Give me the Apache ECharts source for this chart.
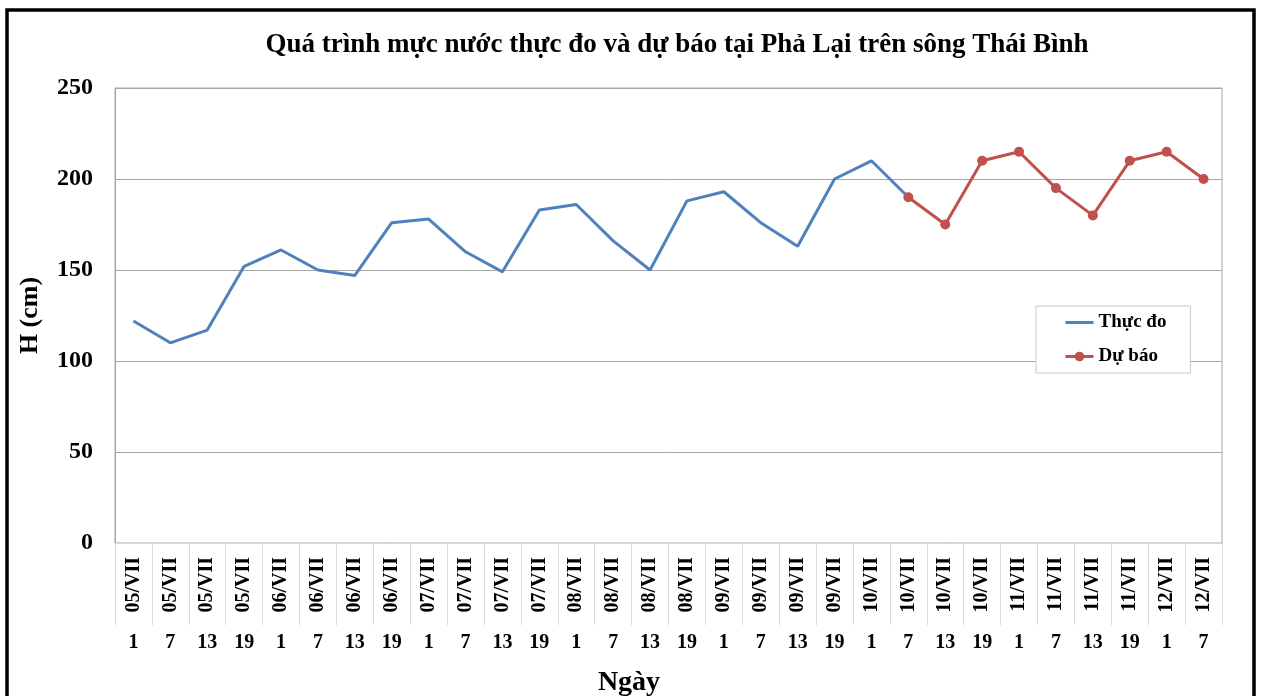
<!DOCTYPE html>
<html><head><meta charset="utf-8">
<script src="https://cdn.jsdelivr.net/npm/echarts@6/dist/echarts.min.js"></script>
<style>html,body{margin:0;padding:0;background:#fff}#c{width:1265px;height:696px}</style>
</head><body><div id="c"></div>
<script>
const dates = ['05/VII','05/VII','05/VII','05/VII','06/VII','06/VII','06/VII','06/VII','07/VII','07/VII','07/VII','07/VII','08/VII','08/VII','08/VII','08/VII','09/VII','09/VII','09/VII','09/VII','10/VII','10/VII','10/VII','10/VII','11/VII','11/VII','11/VII','11/VII','12/VII','12/VII'];
const hours = ['1','7','13','19','1','7','13','19','1','7','13','19','1','7','13','19','1','7','13','19','1','7','13','19','1','7','13','19','1','7'];
const thucDo = [122,110,117,152,161,150,147,176,178,160,149,183,186,166,150,188,193,176,163,200,210,190,null,null,null,null,null,null,null,null];
const duBao = [null,null,null,null,null,null,null,null,null,null,null,null,null,null,null,null,null,null,null,null,null,190,175,210,215,195,180,210,215,200];
const yTicks = [0,50,100,150,200,250];

const F = 'Liberation Serif';
const chart = echarts.init(document.getElementById('c'));
chart.setOption({
  animation:false,
  title:{text:'Quá trình mực nước thực đo và dự báo tại Phả Lại trên sông Thái Bình',left:672,top:27,textAlign:'center',
    textStyle:{fontFamily:F,fontWeight:'bold',fontSize:27,color:'#000'}},
  grid:{left:115,right:43,top:88,bottom:153,show:true,borderColor:'#a6a6a6',borderWidth:1},
  legend:{orient:'vertical',left:1036,top:306,backgroundColor:'#fff',borderColor:'#c8c8c8',borderWidth:1,
    padding:[7,24,7,28],itemGap:15,itemWidth:28,itemHeight:12,
    lineStyle:{width:3},
    textStyle:{fontFamily:F,fontWeight:'bold',fontSize:19,color:'#000'},
    data:[{name:'Thực đo',itemStyle:{color:'rgba(0,0,0,0)',borderWidth:0}},{name:'Dự báo'}]},
  xAxis:[
    {type:'category',data:dates,boundaryGap:true,
     axisLine:{show:true,lineStyle:{color:'#d9d9d9'}},
     axisTick:{show:true,length:82,lineStyle:{color:'#d9d9d9'}},
     axisLabel:{rotate:90,margin:14,interval:0,fontFamily:F,fontWeight:'bold',fontSize:20,color:'#000'}},
    {type:'category',data:hours,boundaryGap:true,position:'bottom',
     axisLine:{show:false},axisTick:{show:false},
     axisLabel:{margin:90,interval:0,fontFamily:F,fontWeight:'bold',fontSize:20,color:'#000'}}
  ],
  yAxis:{type:'value',min:yTicks[0],max:yTicks[yTicks.length-1],interval:50,
    name:'H (cm)',nameLocation:'middle',nameGap:72,
    nameTextStyle:{fontFamily:F,fontWeight:'bold',fontSize:26,color:'#000'},
    axisLine:{show:true,lineStyle:{color:'#a6a6a6'}},axisTick:{show:false},
    axisLabel:{margin:22,fontFamily:F,fontWeight:'bold',fontSize:24,color:'#000'},
    splitLine:{lineStyle:{color:'#a6a6a6'}}},
  graphic:[
    {type:'rect',shape:{x:7,y:10,width:1247,height:720},style:{fill:'none',stroke:'#000',lineWidth:3.5},silent:true},
    {type:'text',x:629,y:683,style:{text:'Ngày',textAlign:'center',textVerticalAlign:'middle',fontFamily:F,fontWeight:'bold',fontSize:28,fill:'#000'}}
  ],
  series:[
    {name:'Thực đo',type:'line',data:thucDo,symbol:'none',lineStyle:{color:'#4f81bd',width:3},itemStyle:{color:'#4f81bd'}},
    {name:'Dự báo',type:'line',data:duBao,symbol:'circle',symbolSize:10,lineStyle:{color:'#c0504d',width:3},itemStyle:{color:'#c0504d'}}
  ]
});
</script></body></html>
